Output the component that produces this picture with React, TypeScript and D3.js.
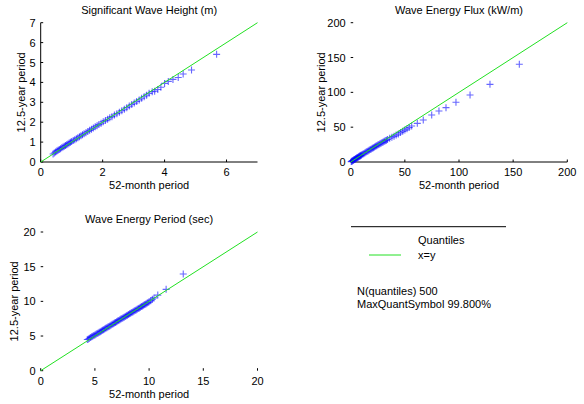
import React from "react";
import * as d3 from "d3";

// ---- Data ----
const hsX = [0.40,0.44,0.48,0.52,0.56,0.60,0.64,0.68,0.72,0.76,0.80,0.84,0.88,0.92,0.96,1.00,1.05,1.10,1.15,1.20,1.25,1.30,1.35,1.40,1.46,1.52,1.58,1.64,1.70,1.76,1.82,1.88,1.95,2.02,2.09,2.16,2.23,2.30,2.38,2.46,2.54,2.62,2.70,2.78,2.86,2.94,3.02,3.10,3.18,3.26,3.34,3.42,3.50,3.60,3.68,3.78,3.88,4.00,4.12,4.27,4.44,4.60,4.87,5.68];
const hsY = [0.40,0.45,0.50,0.55,0.59,0.63,0.67,0.71,0.75,0.79,0.83,0.87,0.91,0.95,0.99,1.03,1.08,1.12,1.17,1.22,1.27,1.32,1.37,1.42,1.47,1.53,1.59,1.65,1.71,1.77,1.82,1.88,1.95,2.02,2.08,2.15,2.22,2.28,2.36,2.43,2.50,2.58,2.65,2.73,2.81,2.89,2.96,3.04,3.12,3.20,3.28,3.36,3.45,3.53,3.56,3.64,3.76,3.95,4.05,4.15,4.25,4.42,4.62,5.41];

const fxX = [0.5,1,1.5,2,2.5,3,3.5,4,4.5,5,5.5,6,6.5,7,7.5,8,8.5,9,9.5,10,11,12,13,14,15,16,17,18,19,20,21,22,23,24,25,26,27,28,29,30,31,32,33,34,36,38,40,42,44,46,48,50,52,54,56.3,61.5,67.0,74.8,81.5,88.0,97.2,110.2,128.6,155.7];
const fxY = [0.6,1.1,1.6,2.1,2.6,3.1,3.6,4.1,4.6,5.1,5.6,6.1,6.6,7.1,7.6,8.1,8.6,9.1,9.6,10.1,11.1,12.0,13.0,14.0,14.9,15.9,16.9,17.8,18.8,19.7,20.6,21.6,22.5,23.4,24.3,25.2,26.1,27.0,27.9,28.8,29.7,30.5,31.4,32.3,34.0,35.5,36.8,38.6,40.3,42.2,44.0,45.8,47.6,49.5,51.7,55.5,60.3,67.5,73.2,78.0,85.7,96.2,111.5,140.3];

const teX = [4.30,4.40,4.50,4.60,4.70,4.80,4.90,5.00,5.10,5.20,5.30,5.40,5.50,5.60,5.70,5.80,5.90,6.00,6.10,6.20,6.30,6.40,6.50,6.60,6.70,6.80,6.90,7.00,7.10,7.20,7.30,7.40,7.50,7.60,7.70,7.80,7.90,8.00,8.10,8.20,8.30,8.40,8.50,8.60,8.70,8.80,8.90,9.00,9.10,9.20,9.30,9.40,9.50,9.60,9.70,9.80,9.90,10.00,10.15,10.30,10.45,10.80,11.57,13.15];
const teY = [4.50,4.58,4.68,4.78,4.88,4.97,5.07,5.16,5.26,5.35,5.44,5.54,5.63,5.73,5.82,5.92,6.01,6.11,6.20,6.30,6.39,6.49,6.58,6.68,6.77,6.87,6.96,7.06,7.15,7.25,7.34,7.44,7.53,7.63,7.72,7.82,7.91,8.01,8.10,8.20,8.29,8.39,8.48,8.58,8.67,8.77,8.86,8.96,9.05,9.15,9.24,9.34,9.43,9.53,9.62,9.72,9.82,9.93,10.10,10.30,10.50,10.90,11.73,13.94];

const hsTicksX = [0, 2, 4, 6];
const hsTicksY = [0, 1, 2, 3, 4, 5, 6, 7];
const fxTicks = [0, 50, 100, 150, 200];
const teTicks = [0, 5, 10, 15, 20];

const titles = ["Significant Wave Height (m)", "Wave Energy Flux (kW/m)", "Wave Energy Period (sec)"];
const xLabel = "52-month period";
const yLabel = "12.5-year period";
const legendLabels = ["Quantiles", "x=y"];
const infoLines = ["N(quantiles) 500", "MaxQuantSymbol 99.800%"];

const FONT = "'Liberation Sans', Arial, sans-serif";
const BLUE = "#0000ff";
const GREEN = "#22e022";

type PanelProps = {
  x0: number; x1: number; yTop: number; yBot: number;
  max: number; xs: number[]; ys: number[];
  ticksX: number[]; ticksY: number[];
  title: string; yLabelX: number;
  showLeft: boolean; showBottom: boolean;
};

function Panel(p: PanelProps) {
  const sx = d3.scaleLinear().domain([0, p.max]).range([p.x0, p.x1]);
  const sy = d3.scaleLinear().domain([0, p.max]).range([p.yBot, p.yTop]);
  const cx = (p.x0 + p.x1) / 2;
  const cy = (p.yTop + p.yBot) / 2;
  const line = d3.line<number>().x((d) => sx(d)).y((d) => sy(d));
  const m = 3.5;
  return (
    <g fontFamily={FONT} fontSize={11} fill="#000">
      <text x={cx} y={p.yTop - 9} textAnchor="middle">{p.title}</text>
      {p.showLeft && <line x1={p.x0} x2={p.x0} y1={p.yTop} y2={p.yBot} stroke="#000" />}
      {p.showBottom && <line x1={p.x0} x2={p.x1} y1={p.yBot} y2={p.yBot} stroke="#000" />}
      {p.ticksX.map((t) => (
        <g key={"x" + t}>
          <line x1={sx(t)} x2={sx(t)} y1={p.yBot} y2={p.yBot - 2.5} stroke="#000" />
          <text x={sx(t)} y={p.yBot + 14} textAnchor="middle">{t}</text>
        </g>
      ))}
      {p.ticksY.map((t) => (
        <g key={"y" + t}>
          <line x1={p.x0} x2={p.x0 + 2.5} y1={sy(t)} y2={sy(t)} stroke="#000" />
          <text x={p.x0 - 5} y={sy(t) + 4} textAnchor="end">{t}</text>
        </g>
      ))}
      <text x={cx} y={p.yBot + 27} textAnchor="middle">{xLabel}</text>
      <text
        transform={`translate(${p.yLabelX},${cy}) rotate(-90)`}
        textAnchor="middle"
        dy="4"
      >
        {yLabel}
      </text>
      {p.xs.map((v, i) => {
        const X = sx(v), Y = sy(p.ys[i]);
        return (
          <path
            key={i}
            d={`M${X - m},${Y}h${2 * m}M${X},${Y - m}v${2 * m}`}
            stroke={BLUE}
            strokeOpacity={0.6}
            strokeWidth={1.1}
            fill="none"
          />
        );
      })}
      <path d={line([0, p.max]) || ""} stroke={GREEN} strokeWidth={1} fill="none" />
    </g>
  );
}

export default function App() {
  return (
    <svg
      width={584}
      height={404}
      style={{ position: "absolute", left: 0, top: 0, background: "#fff" }}
    >
      <rect width={584} height={404} fill="#fff" />
      <Panel x0={40.7} x1={257.5} yTop={22.7} yBot={162} max={7} xs={hsX} ys={hsY}
        ticksX={hsTicksX} ticksY={hsTicksY} title={titles[0]} yLabelX={21}
        showLeft={true} showBottom={true} />
      <Panel x0={350.7} x1={567.3} yTop={22.7} yBot={162} max={200} xs={fxX} ys={fxY}
        ticksX={fxTicks} ticksY={fxTicks} title={titles[1]} yLabelX={321}
        showLeft={false} showBottom={true} />
      <Panel x0={40.7} x1={257.5} yTop={232} yBot={370.7} max={20} xs={teX} ys={teY}
        ticksX={teTicks} ticksY={teTicks} title={titles[2]} yLabelX={14}
        showLeft={false} showBottom={false} />
      <g fontFamily={FONT} fontSize={11} fill="#000">
        <line x1={351} x2={506} y1={226.7} y2={226.7} stroke="#000" />
        <text x={418} y={243.5}>{legendLabels[0]}</text>
        <line x1={369} x2={401} y1={255} y2={255} stroke={GREEN} />
        <text x={418} y={259}>{legendLabels[1]}</text>
        <text x={357} y={295}>{infoLines[0]}</text>
        <text x={357} y={307.5}>{infoLines[1]}</text>
      </g>
    </svg>
  );
}
